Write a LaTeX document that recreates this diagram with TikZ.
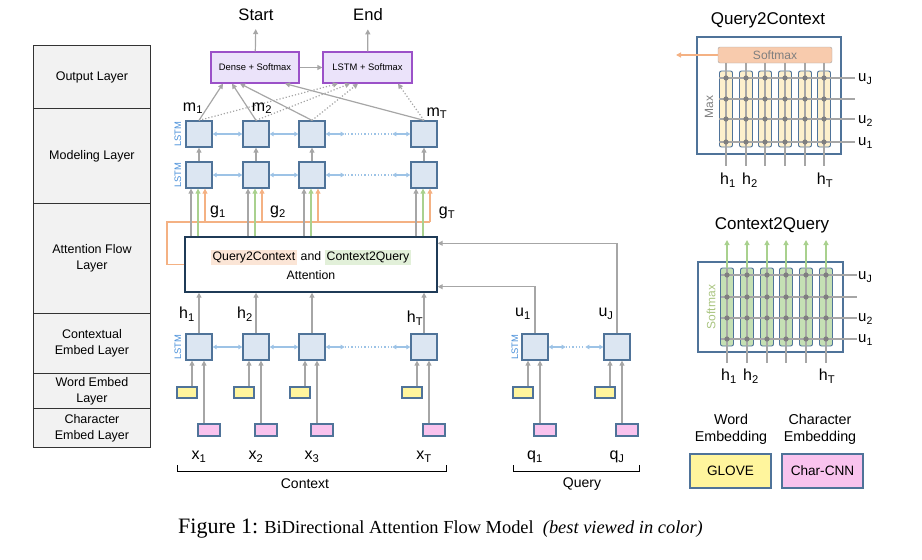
\documentclass[tikz,border=0pt]{standalone}
\usepackage{fontspec}
\setmainfont{Liberation Sans}
\newfontfamily\capfont{Liberation Serif}
\usetikzlibrary{arrows.meta}
\definecolor{lstmfill}{HTML}{DCE6F2}
\definecolor{lstmline}{HTML}{4F7399}
\definecolor{lstmtext}{HTML}{4A90D9}
\definecolor{biline}{HTML}{9DC3E6}
\definecolor{arrgray}{HTML}{A6A6A6}
\definecolor{arrgreen}{HTML}{A9D18E}
\definecolor{arrorange}{HTML}{F4B183}
\definecolor{outfill}{HTML}{EBE3FA}
\definecolor{outline}{HTML}{9B51C8}
\definecolor{attline}{HTML}{1F3B57}
\definecolor{wordfill}{HTML}{FFF59D}
\definecolor{charfill}{HTML}{F9C3EE}
\definecolor{layerfill}{HTML}{F2F2F2}
\definecolor{qcfill}{HTML}{FBE5D6}
\definecolor{cqfill}{HTML}{E2F0D9}
\definecolor{smxfill}{HTML}{F8CBAD}
\definecolor{maxcol}{HTML}{FDF0CC}
\definecolor{softcol}{HTML}{C5E0B4}
\definecolor{dotgray}{HTML}{7F7F7F}
\definecolor{softtext}{HTML}{A9C47F}
\newcommand{\fsz}[1]{\fontsize{#1}{#1}\selectfont}
\setlength{\fboxsep}{2pt}

\begin{document}
\begin{tikzpicture}[x=1pt,y=-1pt]
\tikzstyle{every node}=[inner sep=0pt, font=\fsz{12.5}]
\tikzstyle{layerbox}=[draw=black!80, fill=layerfill, line width=0.9pt, minimum width=117pt, anchor=north west, align=center, font=\fontsize{12.5}{16}\selectfont]
\tikzstyle{cell}=[draw=lstmline, fill=lstmfill, line width=1.3pt, minimum size=26pt]
\tikzstyle{wordemb}=[draw=lstmline, fill=wordfill, line width=1.1pt, minimum width=20pt, minimum height=11pt]
\tikzstyle{charemb}=[draw=lstmline, fill=charfill, line width=1.1pt, minimum width=22pt, minimum height=12pt]
\tikzstyle{garrow}=[draw=arrgray, line width=1.2pt, -{Triangle[length=5pt,width=5pt]}]
\tikzstyle{grarrow}=[draw=arrgreen, line width=1.2pt, -{Triangle[length=5pt,width=5pt]}]
\tikzstyle{orarrow}=[draw=arrorange, line width=1.2pt, -{Triangle[length=5pt,width=5pt]}]
\tikzstyle{orline}=[draw=arrorange, line width=1.2pt]
\tikzstyle{barrow}=[draw=biline, line width=1.3pt, {Triangle[length=4pt,width=4.5pt]}-{Triangle[length=4pt,width=4.5pt]}]
\tikzstyle{bdots}=[draw=biline, line width=1.3pt, dotted]
\tikzstyle{outbox}=[draw=outline, fill=outfill, line width=1.2pt, minimum height=31pt, font=\fsz{9.4}]
\tikzstyle{lstmlbl}=[rotate=90, text=lstmtext, font=\fsz{9.4}]
\tikzstyle{vlabel}=[font=\fsz{16}]
\tikzstyle{ulabel}=[font=\fsz{15}, anchor=west]
\tikzstyle{panel}=[draw=lstmline, line width=1.1pt]
\tikzstyle{colbox}=[draw=lstmline, line width=0.9pt, rounded corners=2pt, minimum width=13pt]
\tikzstyle{gridline}=[draw=arrgray, line width=1.3pt]
\tikzstyle{keybox}=[draw=lstmline, line width=1.1pt, minimum width=81pt, minimum height=34pt, font=\fsz{13.6}]
\useasboundingbox (0,0) rectangle (922,560);

\foreach \ya/\yb/\txt [count=\i] in {45/108/Output Layer, 108/203/Modeling Layer, 203/313/{Attention Flow\\Layer}, 313/373/{Contextual\\Embed Layer}, 373/408/{Word Embed\\Layer}, 408/447/{Character\\Embed Layer}}
  \node[layerbox, minimum height=\yb-\ya] (layer\i) at (33,\ya) {\txt};

\node[outbox, minimum width=88pt] (dense) at (255,67.5) {Dense + Softmax};
\node[outbox, minimum width=89pt] (lsmx) at (367.5,67.5) {LSTM + Softmax};
\node[font=\fsz{16.6}, inner ysep=8pt] (start) at (256,15) {Start};
\node[font=\fsz{16.6}, inner ysep=8pt] (end) at (368,15) {End};
\draw[garrow] (dense) -- (start);
\draw[garrow] (lsmx) -- (end);
\draw[garrow] (dense) -- (lsmx);

\foreach \c/\k in {199/1,256/2,312/3,424/T} {
  \node[cell] (mt\k) at (\c,134) {};
  \node[cell] (mb\k) at (\c,175) {};
  \draw[garrow] (mb\k) -- (mt\k);
}
\foreach \k/\a/\b in {1/-32/-29.5, 2/-23/-17.5, 3/-15/-9.5, T/30/30.5} {
  \draw[garrow] (mt\k.north) -- ([xshift=\a pt]dense.south);
  \draw[garrow, dotted] (mt\k.north) -- ([xshift=\b pt]lsmx.south);
}

\foreach \c/\n/\l/\s in {199/ctx1/x/1, 256/ctx2/x/2, 312/ctx3/x/3, 424/ctxT/x/T, 535/qry1/q/1, 617/qryJ/q/J} {
  \node[cell] (\n) at (\c,347) {};
  \node[wordemb] (\n-w) at (\c-12,392.5) {};
  \node[charemb] (\n-c) at (\c+10,430) {};
  \node[vlabel] (\n-t) at (\c,457) {\l\textsubscript{\s}};
  \draw[garrow] ([xshift=5pt]\n-w.north) -- ([xshift=-7pt]\n.south);
  \draw[garrow] ([xshift=-5pt]\n-c.north) -- ([xshift=5pt]\n.south);
}

\foreach \r in {mt,mb,ctx} {
  \draw[barrow] (\r1) -- (\r2);
  \draw[barrow] (\r2) -- (\r3);
  \draw[barrow] (\r3.east) -- ++(19,0) coordinate (\r-da);
  \draw[barrow] (\r T.west) -- ++(-18,0) coordinate (\r-db);
  \draw[bdots] (\r-da) -- (\r-db);
}
\draw[barrow] (qry1.east) -- ++(17,0) coordinate (qry-da);
\draw[barrow] (qryJ.west) -- ++(-18,0) coordinate (qry-db);
\draw[bdots] (qry-da) -- (qry-db);

\node[lstmlbl] (lstm-a) at (178,134) {LSTM};
\node[lstmlbl] (lstm-b) at (178,175) {LSTM};
\node[lstmlbl] (lstm-c) at (178,347) {LSTM};
\node[lstmlbl] (lstm-d) at (515,347) {LSTM};

\node[draw=attline, line width=1.4pt, fill=white, minimum width=252pt, minimum height=55pt, align=center, font=\fontsize{12.3}{19}\selectfont] (att) at (311,264.5) {\colorbox{qcfill}{Query2Context} and \colorbox{cqfill}{Context2Query}\\Attention};

\foreach \k in {1,2,3,T}
  \draw[garrow] (ctx\k) -- (ctx\k |- att.south);

\coordinate (qcbus) at (167,222);
\foreach \k in {1,2,3,T} {
  \coordinate (gi\k) at ([xshift=-8pt]mb\k.south);
  \coordinate (ci\k) at ([xshift=-1pt]mb\k.south);
  \coordinate (oi\k) at ([xshift=6pt]mb\k.south);
}
\draw[orline] (att.west) -| (qcbus) -- (qcbus -| oiT);
\foreach \k in {1,2,3,T} {
  \draw[orarrow] (qcbus -| oi\k) -- (oi\k);
  \draw[garrow] (att.north -| gi\k) -- (gi\k);
  \draw[grarrow] (att.north -| ci\k) -- (ci\k);
}
\draw[garrow] (qryJ.north) |- ([yshift=-7pt]att.north east);
\draw[garrow] (qry1.north) |- ([yshift=6pt]att.south east);

\node[vlabel] (m1) at (193,108) {m\textsubscript{1}};
\node[vlabel] (m2) at (262,108) {m\textsubscript{2}};
\node[vlabel] (mT) at (437,113) {m\textsubscript{T}};
\node[vlabel] (g1) at (218,212) {g\textsubscript{1}};
\node[vlabel] (g2) at (278,212) {g\textsubscript{2}};
\node[vlabel] (gT) at (447,213) {g\textsubscript{T}};
\node[vlabel] (h1) at (187,314) {h\textsubscript{1}};
\node[vlabel] (h2) at (245,314) {h\textsubscript{2}};
\node[vlabel] (hT) at (415,318) {h\textsubscript{T}};
\node[vlabel] (u1) at (523,314) {u\textsubscript{1}};
\node[vlabel] (uJ) at (606,314) {u\textsubscript{J}};

\draw[line width=1pt] (177,465) |- (446,471) -- (446,465);
\draw[line width=1pt] (513,465) |- (639,471) -- (639,465);
\node[font=\fsz{14}] (ctxname) at (305,484) {Context};
\node[font=\fsz{14}] (qryname) at (582,484) {Query};

\node[font=\fsz{17}] (q2ctitle) at (768,20) {Query2Context};
\node[panel, minimum width=144pt, minimum height=117pt] (q2cpanel) at (769,95.5) {};
\node[draw=arrgray, fill=smxfill, rounded corners=2pt, minimum width=114pt, minimum height=16pt, text=dotgray, font=\fsz{12}] (q2csm) at (775,55) {Softmax};
\coordinate (q2cout) at (676,55);
\draw[orarrow] (q2csm) -- (q2cout);
\foreach \c [count=\i] in {726,746,765,785,805,824}
  \node[colbox, fill=maxcol, minimum height=76pt] (q2ccol\i) at (\c,109) {};
\foreach \y in {78,99,119,142}
  \draw[gridline] (719,\y) -- (855,\y);
\foreach \c in {726,746,765,785,805,824} {
  \draw[gridline] (\c,63) -- (\c,166);
  \foreach \y in {78,99,119,142}
    \fill[dotgray] (\c,\y) circle (2.6pt);
}
\node[rotate=90, text=dotgray, font=\fsz{12}] (q2cmax) at (709,107) {Max};
\node[ulabel] (q2cuJ) at (858,79) {u\textsubscript{J}};
\node[ulabel] (q2cu2) at (858,121) {u\textsubscript{2}};
\node[ulabel] (q2cu1) at (858,143) {u\textsubscript{1}};
\node[vlabel] (q2ch1) at (728,180) {h\textsubscript{1}};
\node[vlabel] (q2ch2) at (750,180) {h\textsubscript{2}};
\node[vlabel] (q2chT) at (825,180) {h\textsubscript{T}};

\node[font=\fsz{17}] (c2qtitle) at (772,225) {Context2Query};
\node[panel, minimum width=145pt, minimum height=90pt] (c2qpanel) at (770.5,307) {};
\foreach \c [count=\i] in {727,747,767,786,806,826}
  \node[colbox, fill=softcol, minimum height=78pt] (c2qcol\i) at (\c,307) {};
\foreach \y in {275,297,318,339}
  \draw[gridline] (721,\y) -- (857,\y);
\foreach \c in {727,747,767,786,806,826} {
  \draw[gridline] (\c,268) -- (\c,363);
  \draw[grarrow] (\c,268) -- (\c,240);
  \foreach \y in {275,297,318,339}
    \fill[dotgray] (\c,\y) circle (2.6pt);
}
\node[rotate=90, text=softtext, font=\fsz{12}] (c2qsoft) at (711,307) {Softmax};
\node[ulabel] (c2quJ) at (858,277) {u\textsubscript{J}};
\node[ulabel] (c2qu2) at (858,319) {u\textsubscript{2}};
\node[ulabel] (c2qu1) at (858,340) {u\textsubscript{1}};
\node[vlabel] (c2qh1) at (729,376) {h\textsubscript{1}};
\node[vlabel] (c2qh2) at (751,376) {h\textsubscript{2}};
\node[vlabel] (c2qhT) at (827,376) {h\textsubscript{T}};

\node[align=center, font=\fontsize{14.3}{17}\selectfont] (wordkey) at (731,429) {Word\\Embedding};
\node[align=center, font=\fontsize{14.3}{17}\selectfont] (charkey) at (820,429) {Character\\Embedding};
\node[keybox, fill=wordfill] (glove) at (730.5,471) {GLOVE};
\node[keybox, fill=charfill] (charcnn) at (822.5,471) {Char-CNN};

\node[anchor=base west, font=\capfont\fsz{18.4}] (caption) at (178,533) {{\fsz{22}Figure 1:} BiDirectional Attention Flow Model~ \textit{(best viewed in color)}};
\end{tikzpicture}
\end{document}
